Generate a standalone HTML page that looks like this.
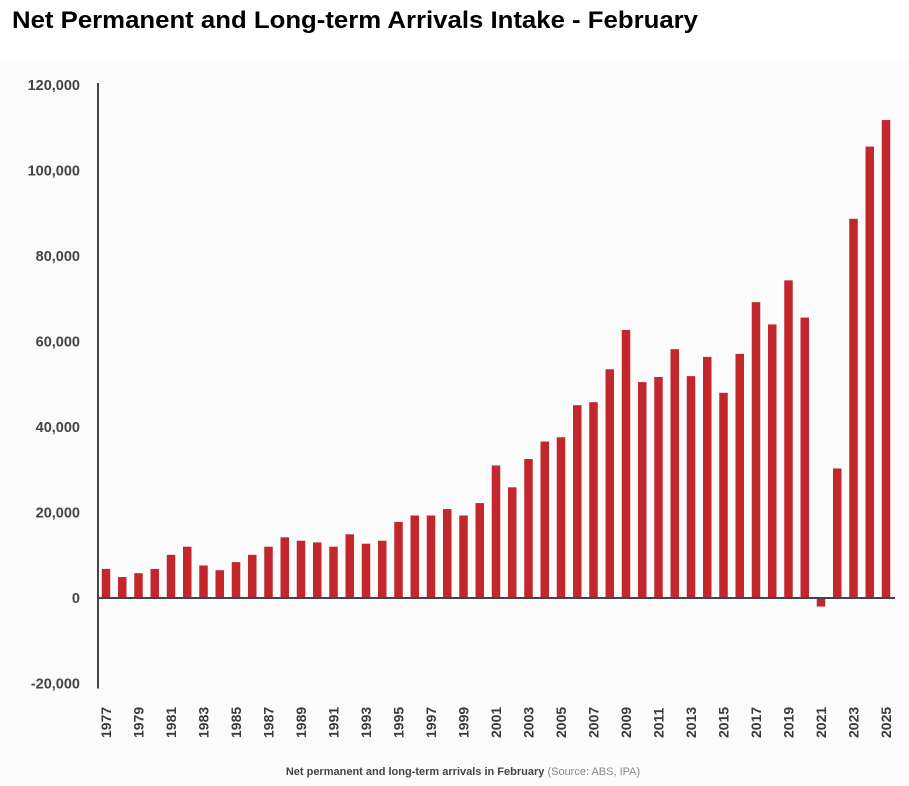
<!DOCTYPE html>
<html><head><meta charset="utf-8"><style>
body{margin:0;background:#fff;}
svg{display:block;font-family:"Liberation Sans",sans-serif;}
</style></head><body>
<svg id="chart" width="909" height="786" viewBox="0 0 909 786">
<rect x="0" y="60" width="909" height="726" fill="#fbfbfb"/>
<text x="12" y="28" font-size="24" font-weight="bold" fill="#000" textLength="686" lengthAdjust="spacingAndGlyphs">Net Permanent and Long-term Arrivals Intake - February</text>
<g id="bars"></g>
<g id="yaxis"></g>
<g id="xaxis"></g>
<text x="463" y="775" font-size="11" text-anchor="middle" fill="#444"><tspan font-weight="bold">Net permanent and long-term arrivals in February</tspan><tspan fill="#888"> (Source: ABS, IPA)</tspan></text>
</svg>
<script>
const years = [];
for (let y = 1977; y <= 2025; y++) years.push(y);
const values = [6800,4900,5800,6800,10100,12000,7600,6500,8400,10100,12000,14200,13400,13000,12000,14900,12700,13400,17800,19300,19300,20800,19300,22200,31000,25900,32500,36600,37600,45100,45800,53500,62700,50500,51700,58200,51900,56400,48000,57100,69200,64000,74300,65600,-2000,30300,88700,105600,111800];
const yTicks = [-20000,0,20000,40000,60000,80000,100000,120000];
const yTickLabels = ["-20,000","0","20,000","40,000","60,000","80,000","100,000","120,000"];

const NS = "http://www.w3.org/2000/svg";
const y0 = 598, pxPer = 85.5/20000;
function yScale(v){ return y0 - v*pxPer; }
function xScale(i){ return 106 + i*16.25; }
const barW = 8.5;

const bars = document.getElementById('bars');
values.forEach((v,i)=>{
  const r = document.createElementNS(NS,'rect');
  
  
  const top = Math.min(yScale(v), y0), bot = Math.max(yScale(v), y0);
  r.setAttribute('x', xScale(i)-barW/2);
  r.setAttribute('y', top);
  r.setAttribute('width', barW);
  r.setAttribute('height', bot-top);
  r.setAttribute('fill','#c1272d');
  bars.appendChild(r);
});

const ya = document.getElementById('yaxis');
const al = document.createElementNS(NS,'line');


al.setAttribute('x1',98);al.setAttribute('x2',98);
al.setAttribute('y1',yScale(120000)-2);al.setAttribute('y2',yScale(-20000)+5);
al.setAttribute('stroke','#444');al.setAttribute('stroke-width','2');
ya.appendChild(al);
yTicks.forEach((t,i)=>{
  const tx = document.createElementNS(NS,'text');
  
  
  tx.setAttribute('x',80);
  tx.setAttribute('y',yScale(t)+5);
  tx.setAttribute('text-anchor','end');
  tx.setAttribute('font-size','14.5');
  tx.setAttribute('font-weight','bold');
  tx.setAttribute('fill','#444');
  tx.textContent = yTickLabels[i];
  ya.appendChild(tx);
});

const xa = document.getElementById('xaxis');
const zl = document.createElementNS(NS,'line');


zl.setAttribute('x1',98);zl.setAttribute('x2',895);
zl.setAttribute('y1',y0);zl.setAttribute('y2',y0);
zl.setAttribute('stroke','#444');zl.setAttribute('stroke-width','2');
xa.appendChild(zl);
years.forEach((yr,i)=>{
  if ((yr-1977)%2!==0) return;
  const tx = document.createElementNS(NS,'text');
  
  
  const x = xScale(i)+5, y = 738;
  tx.setAttribute('x',x);tx.setAttribute('y',y);
  tx.setAttribute('transform','rotate(-90 '+x+' '+y+')');
  tx.setAttribute('font-size','14');
  tx.setAttribute('font-weight','bold');
  tx.setAttribute('fill','#3a3a3a');
  tx.textContent = yr;
  xa.appendChild(tx);
});
</script>
</body></html>
